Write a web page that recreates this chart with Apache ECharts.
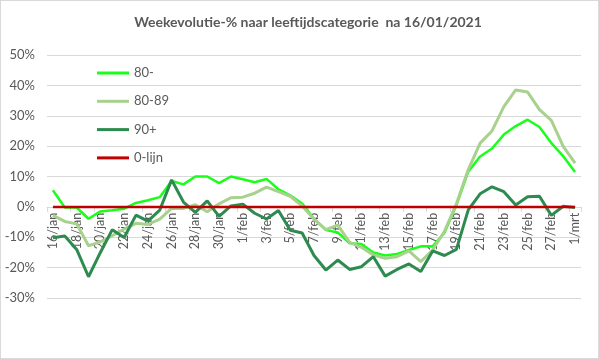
<!DOCTYPE html>
<html>
<head>
<meta charset="utf-8">
<script src="https://cdn.jsdelivr.net/npm/echarts@6/dist/echarts.min.js"></script>
<style>
html,body{margin:0;padding:0;background:#fff;}
#wrap{position:relative;width:599px;height:359px;}
#chart{position:absolute;left:0;top:0;width:599px;height:359px;}
#frame{position:absolute;left:0;top:0;width:599px;height:359px;box-sizing:border-box;border:1px solid #d9d9d9;pointer-events:none;}
</style>
</head>
<body>
<div id="wrap"><div id="chart"></div><div id="frame"></div></div>
<script>
const titleText = 'Weekevolutie-% naar leeftijdscategorie  na 16/01/2021';
const dates = ['16/jan','17/jan','18/jan','19/jan','20/jan','21/jan','22/jan','23/jan','24/jan','25/jan','26/jan','27/jan','28/jan','29/jan','30/jan','31/jan',
  '1/feb','2/feb','3/feb','4/feb','5/feb','6/feb','7/feb','8/feb','9/feb','10/feb','11/feb','12/feb','13/feb','14/feb','15/feb','16/feb','17/feb','18/feb','19/feb','20/feb','21/feb','22/feb','23/feb','24/feb','25/feb','26/feb','27/feb','28/feb',
  '1/mrt'];
const seriesNames = ['80-','80-89','90+','0-lijn'];
const s80min = [5.5,-0.2,-0.2,-3.9,-1.5,-1.1,-0.6,1.3,2.2,3.2,8.5,7.4,10,10,7.8,10,9.1,8.1,9.2,5.8,3.8,1.1,-3.9,-7.6,-8.4,-12,-12.2,-15,-16,-15.5,-14.2,-13,-13,-8.5,0.5,11.6,16.6,19.2,23.8,26.6,28.7,26.3,21,16.7,11.5];
const s80_89 = [-2.8,-4.8,-5.6,-12.8,-11.5,-9.5,-7.3,-5.4,-5.8,-4,-0.5,-0.5,0.7,-1.6,1,3,3.2,4.5,6.5,5,3.5,0.3,-4,-7.5,-6,-11.7,-13.3,-15.8,-16.9,-16.4,-14.5,-18,-14.2,-8,1,12.3,21,25,33,38.5,37.8,32,28.5,19.9,14.4];
const s90plus = [-10.2,-9.6,-14,-23,-15,-7.5,-10.1,-2.7,-4.7,-1.1,8.9,1.6,-1.8,2,-3.1,0.3,0.9,-2.1,-4,-1.2,-7.7,-8.6,-16,-20.8,-17.5,-20.6,-19.7,-16.4,-22.8,-20.6,-18.8,-21.3,-14.5,-16,-14,-1,4.3,6.6,5,0.6,3.3,3.5,-2.8,0.2,-0.2];
const zeroLine = [0,0,0,0,0,0,0,0,0,0,0,0,0,0,0,0,0,0,0,0,0,0,0,0,0,0,0,0,0,0,0,0,0,0,0,0,0,0,0,0,0,0,0,0,0];
const yMin = -30, yMax = 50, yStep = 10;

const colors = ['#1aff1a','#a9d18e','#2e8b4f','#c00000'];
const widths = [2.5,3,3,2.5];
const dataSets = [s80min, s80_89, s90plus, zeroLine];
const FONT = 'Lato, "Open Sans", sans-serif';

const gridTop = 55, gridBottom = 61, H = 359;
const plotH = H - gridTop - gridBottom;
const zeroOffset = -plotH * (0 - yMin) / (yMax - yMin);

const chart = echarts.init(document.getElementById('chart'), null, {renderer:'canvas'});
chart.setOption({
  animation:false,
  backgroundColor:'#fff',
  graphic:[{type:'text', x:308, y:22, style:{text:titleText, fill:'#595959', font:'bold 14px Lato, "Open Sans", sans-serif', align:'center', verticalAlign:'middle'}}],
  grid:{left:47, right:18, top:gridTop, bottom:gridBottom, containLabel:false},
  legend:{orient:'vertical', left:92, top:60, icon:'rect', itemWidth:32, itemHeight:3, itemGap:12.3,
    textStyle:{color:'#595959', fontSize:13, fontFamily:FONT, lineHeight:16}, data:seriesNames},
  xAxis:{type:'category', data:dates, boundaryGap:true, offset:zeroOffset,
    axisLine:{onZero:false, lineStyle:{color:'#d9d9d9'}},
    axisTick:{show:true, interval:1, length:5, lineStyle:{color:'#d9d9d9'}},
    axisLabel:{interval:1, rotate:90, color:'#595959', fontSize:12.5, fontFamily:FONT, margin:6},
    splitLine:{show:false}},
  yAxis:{type:'value', min:yMin, max:yMax, interval:yStep,
    axisLine:{show:false}, axisTick:{show:false},
    axisLabel:{formatter:v=>v+'%', color:'#595959', fontSize:13, fontFamily:FONT, margin:12},
    splitLine:{lineStyle:{color:'#d9d9d9', width:1}}},
  series: seriesNames.map((n,i)=>({
    name:n, type:'line', data:dataSets[i], symbol:'none', smooth:false,
    color:colors[i], lineStyle:{color:colors[i], width:widths[i]}, z:2+i
  }))
});
</script>
</body>
</html>
